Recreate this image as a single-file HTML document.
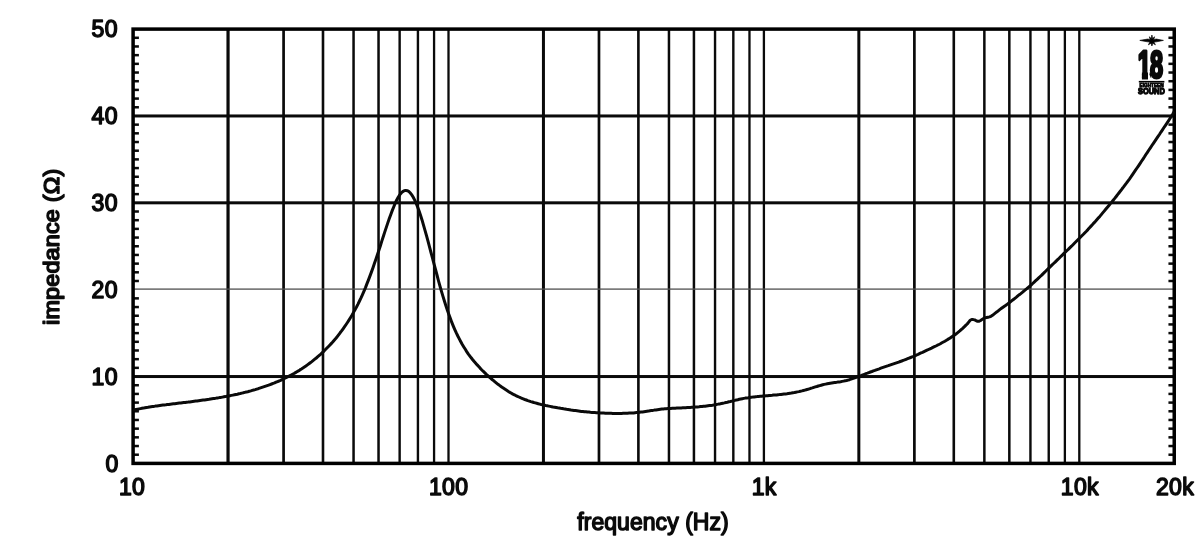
<!DOCTYPE html>
<html lang="en">
<head>
<meta charset="utf-8">
<title>Impedance curve</title>
<style>
html,body{margin:0;padding:0;background:#fff;}
body{width:1200px;height:539px;overflow:hidden;font-family:"Liberation Sans",sans-serif;}
svg{display:block;}
svg text{font-family:"Liberation Sans",sans-serif;font-size:23.0px;fill:#0a0a0a;stroke:#0a0a0a;stroke-width:1.45px;stroke-linejoin:round;letter-spacing:0.3px;}
</style>
</head>
<body>
<svg width="1200" height="539" viewBox="0 0 1200 539">
<rect width="1200" height="539" fill="#ffffff"/>
<g fill="#0a0a0a">
<rect x="226.44" y="29.10" width="3.2" height="434.30"/>
<rect x="282.23" y="29.10" width="2.7" height="434.30"/>
<rect x="321.69" y="29.10" width="2.6" height="434.30"/>
<rect x="352.31" y="29.10" width="2.5" height="434.30"/>
<rect x="377.28" y="29.10" width="2.5" height="434.30"/>
<rect x="398.44" y="29.10" width="2.4" height="434.30"/>
<rect x="416.73" y="29.10" width="2.4" height="434.30"/>
<rect x="432.92" y="29.10" width="2.3" height="434.30"/>
<rect x="447.35" y="29.10" width="2.3" height="434.30"/>
<rect x="541.94" y="29.10" width="3.0" height="434.30"/>
<rect x="597.63" y="29.10" width="2.7" height="434.30"/>
<rect x="637.09" y="29.10" width="2.6" height="434.30"/>
<rect x="667.71" y="29.10" width="2.5" height="434.30"/>
<rect x="692.68" y="29.10" width="2.5" height="434.30"/>
<rect x="713.84" y="29.10" width="2.4" height="434.30"/>
<rect x="732.13" y="29.10" width="2.4" height="434.30"/>
<rect x="748.32" y="29.10" width="2.3" height="434.30"/>
<rect x="762.75" y="29.10" width="2.3" height="434.30"/>
<rect x="857.34" y="29.10" width="3.0" height="434.30"/>
<rect x="913.03" y="29.10" width="2.7" height="434.30"/>
<rect x="952.49" y="29.10" width="2.6" height="434.30"/>
<rect x="983.11" y="29.10" width="2.5" height="434.30"/>
<rect x="1008.08" y="29.10" width="2.5" height="434.30"/>
<rect x="1029.24" y="29.10" width="2.4" height="434.30"/>
<rect x="1047.53" y="29.10" width="2.4" height="434.30"/>
<rect x="1063.72" y="29.10" width="2.3" height="434.30"/>
<rect x="1078.15" y="29.10" width="2.3" height="434.30"/>
<rect x="133.10" y="375.04" width="1041.14" height="3.0"/>
<rect x="133.10" y="201.32" width="1041.14" height="3.0"/>
<rect x="133.10" y="114.46" width="1041.14" height="3.0"/>
<rect x="133.10" y="288.45" width="1041.14" height="1.3" fill="#505050"/>
<rect x="133.10" y="453.46" width="5.8" height="2.5"/>
<rect x="1168.44" y="453.46" width="5.8" height="2.5"/>
<rect x="133.10" y="444.78" width="5.8" height="2.5"/>
<rect x="1168.44" y="444.78" width="5.8" height="2.5"/>
<rect x="133.10" y="436.09" width="5.8" height="2.5"/>
<rect x="1168.44" y="436.09" width="5.8" height="2.5"/>
<rect x="133.10" y="427.41" width="5.8" height="2.5"/>
<rect x="1168.44" y="427.41" width="5.8" height="2.5"/>
<rect x="133.10" y="418.72" width="5.8" height="2.5"/>
<rect x="1168.44" y="418.72" width="5.8" height="2.5"/>
<rect x="133.10" y="410.03" width="5.8" height="2.5"/>
<rect x="1168.44" y="410.03" width="5.8" height="2.5"/>
<rect x="133.10" y="401.35" width="5.8" height="2.5"/>
<rect x="1168.44" y="401.35" width="5.8" height="2.5"/>
<rect x="133.10" y="392.66" width="5.8" height="2.5"/>
<rect x="1168.44" y="392.66" width="5.8" height="2.5"/>
<rect x="133.10" y="383.98" width="5.8" height="2.5"/>
<rect x="1168.44" y="383.98" width="5.8" height="2.5"/>
<rect x="133.10" y="366.60" width="5.8" height="2.5"/>
<rect x="1168.44" y="366.60" width="5.8" height="2.5"/>
<rect x="133.10" y="357.92" width="5.8" height="2.5"/>
<rect x="1168.44" y="357.92" width="5.8" height="2.5"/>
<rect x="133.10" y="349.23" width="5.8" height="2.5"/>
<rect x="1168.44" y="349.23" width="5.8" height="2.5"/>
<rect x="133.10" y="340.55" width="5.8" height="2.5"/>
<rect x="1168.44" y="340.55" width="5.8" height="2.5"/>
<rect x="133.10" y="331.86" width="5.8" height="2.5"/>
<rect x="1168.44" y="331.86" width="5.8" height="2.5"/>
<rect x="133.10" y="323.17" width="5.8" height="2.5"/>
<rect x="1168.44" y="323.17" width="5.8" height="2.5"/>
<rect x="133.10" y="314.49" width="5.8" height="2.5"/>
<rect x="1168.44" y="314.49" width="5.8" height="2.5"/>
<rect x="133.10" y="305.80" width="5.8" height="2.5"/>
<rect x="1168.44" y="305.80" width="5.8" height="2.5"/>
<rect x="133.10" y="297.12" width="5.8" height="2.5"/>
<rect x="1168.44" y="297.12" width="5.8" height="2.5"/>
<rect x="133.10" y="279.74" width="5.8" height="2.5"/>
<rect x="1168.44" y="279.74" width="5.8" height="2.5"/>
<rect x="133.10" y="271.06" width="5.8" height="2.5"/>
<rect x="1168.44" y="271.06" width="5.8" height="2.5"/>
<rect x="133.10" y="262.37" width="5.8" height="2.5"/>
<rect x="1168.44" y="262.37" width="5.8" height="2.5"/>
<rect x="133.10" y="253.69" width="5.8" height="2.5"/>
<rect x="1168.44" y="253.69" width="5.8" height="2.5"/>
<rect x="133.10" y="245.00" width="5.8" height="2.5"/>
<rect x="1168.44" y="245.00" width="5.8" height="2.5"/>
<rect x="133.10" y="236.31" width="5.8" height="2.5"/>
<rect x="1168.44" y="236.31" width="5.8" height="2.5"/>
<rect x="133.10" y="227.63" width="5.8" height="2.5"/>
<rect x="1168.44" y="227.63" width="5.8" height="2.5"/>
<rect x="133.10" y="218.94" width="5.8" height="2.5"/>
<rect x="1168.44" y="218.94" width="5.8" height="2.5"/>
<rect x="133.10" y="210.26" width="5.8" height="2.5"/>
<rect x="1168.44" y="210.26" width="5.8" height="2.5"/>
<rect x="133.10" y="192.88" width="5.8" height="2.5"/>
<rect x="1168.44" y="192.88" width="5.8" height="2.5"/>
<rect x="133.10" y="184.20" width="5.8" height="2.5"/>
<rect x="1168.44" y="184.20" width="5.8" height="2.5"/>
<rect x="133.10" y="175.51" width="5.8" height="2.5"/>
<rect x="1168.44" y="175.51" width="5.8" height="2.5"/>
<rect x="133.10" y="166.83" width="5.8" height="2.5"/>
<rect x="1168.44" y="166.83" width="5.8" height="2.5"/>
<rect x="133.10" y="158.14" width="5.8" height="2.5"/>
<rect x="1168.44" y="158.14" width="5.8" height="2.5"/>
<rect x="133.10" y="149.45" width="5.8" height="2.5"/>
<rect x="1168.44" y="149.45" width="5.8" height="2.5"/>
<rect x="133.10" y="140.77" width="5.8" height="2.5"/>
<rect x="1168.44" y="140.77" width="5.8" height="2.5"/>
<rect x="133.10" y="132.08" width="5.8" height="2.5"/>
<rect x="1168.44" y="132.08" width="5.8" height="2.5"/>
<rect x="133.10" y="123.40" width="5.8" height="2.5"/>
<rect x="1168.44" y="123.40" width="5.8" height="2.5"/>
<rect x="133.10" y="106.02" width="5.8" height="2.5"/>
<rect x="1168.44" y="106.02" width="5.8" height="2.5"/>
<rect x="133.10" y="97.34" width="5.8" height="2.5"/>
<rect x="1168.44" y="97.34" width="5.8" height="2.5"/>
<rect x="133.10" y="88.65" width="5.8" height="2.5"/>
<rect x="1168.44" y="88.65" width="5.8" height="2.5"/>
<rect x="133.10" y="79.97" width="5.8" height="2.5"/>
<rect x="1168.44" y="79.97" width="5.8" height="2.5"/>
<rect x="133.10" y="71.28" width="5.8" height="2.5"/>
<rect x="1168.44" y="71.28" width="5.8" height="2.5"/>
<rect x="133.10" y="62.59" width="5.8" height="2.5"/>
<rect x="1168.44" y="62.59" width="5.8" height="2.5"/>
<rect x="133.10" y="53.91" width="5.8" height="2.5"/>
<rect x="1168.44" y="53.91" width="5.8" height="2.5"/>
<rect x="133.10" y="45.22" width="5.8" height="2.5"/>
<rect x="1168.44" y="45.22" width="5.8" height="2.5"/>
<rect x="133.10" y="36.54" width="5.8" height="2.5"/>
<rect x="1168.44" y="36.54" width="5.8" height="2.5"/>
</g>
<rect x="133.10" y="29.10" width="1041.14" height="434.30" fill="none" stroke="#000" stroke-width="3.5"/>
<path d="M133.1 410.1 L134.6 409.8 L136.1 409.5 L137.6 409.2 L139.1 408.9 L140.5 408.6 L142.0 408.3 L143.5 408.1 L145.0 407.8 L146.5 407.5 L148.0 407.3 L149.5 407.0 L151.0 406.8 L152.5 406.6 L154.0 406.4 L155.4 406.1 L156.9 405.9 L158.4 405.7 L159.9 405.5 L161.4 405.3 L162.9 405.1 L164.4 404.9 L165.9 404.8 L167.4 404.6 L168.8 404.4 L170.3 404.2 L171.8 404.0 L173.3 403.8 L174.8 403.7 L176.3 403.5 L177.8 403.3 L179.3 403.1 L180.8 403.0 L182.3 402.8 L183.7 402.6 L185.2 402.4 L186.7 402.2 L188.2 402.1 L189.7 401.9 L191.2 401.7 L192.7 401.5 L194.2 401.3 L195.7 401.1 L197.1 400.9 L198.6 400.7 L200.1 400.5 L201.6 400.3 L203.1 400.1 L204.6 399.9 L206.1 399.7 L207.6 399.5 L209.1 399.3 L210.6 399.0 L212.0 398.8 L213.5 398.6 L215.0 398.4 L216.5 398.1 L218.0 397.9 L219.5 397.6 L221.0 397.4 L222.5 397.1 L224.0 396.8 L225.4 396.6 L226.9 396.3 L228.4 396.0 L229.9 395.7 L231.4 395.4 L232.9 395.1 L234.4 394.8 L235.9 394.5 L237.4 394.2 L238.9 393.8 L240.3 393.5 L241.8 393.1 L243.3 392.8 L244.8 392.4 L246.3 392.0 L247.8 391.7 L249.3 391.3 L250.8 390.9 L252.3 390.4 L253.7 390.0 L255.2 389.6 L256.7 389.1 L258.2 388.7 L259.7 388.2 L261.2 387.7 L262.7 387.2 L264.2 386.7 L265.7 386.2 L267.2 385.7 L268.6 385.2 L270.1 384.6 L271.6 384.0 L273.1 383.4 L274.6 382.9 L276.1 382.2 L277.6 381.6 L279.1 381.0 L280.6 380.3 L282.0 379.6 L283.5 378.9 L285.0 378.2 L286.5 377.5 L288.0 376.7 L289.5 375.9 L291.0 375.2 L292.5 374.3 L294.0 373.5 L295.5 372.6 L296.9 371.8 L298.4 370.9 L299.9 369.9 L301.4 369.0 L302.9 368.0 L304.4 367.0 L305.9 366.0 L307.4 364.9 L308.9 363.8 L310.3 362.7 L311.8 361.6 L313.3 360.4 L314.8 359.2 L316.3 358.0 L317.8 356.7 L319.3 355.4 L320.8 354.1 L322.3 352.7 L323.8 351.3 L325.2 349.8 L326.7 348.3 L328.2 346.8 L329.7 345.2 L331.2 343.6 L332.7 342.0 L334.2 340.2 L335.7 338.5 L337.2 336.7 L338.6 334.8 L340.1 332.8 L341.6 330.9 L343.1 328.8 L344.6 326.7 L346.1 324.5 L347.6 322.2 L349.1 319.9 L350.6 317.5 L352.1 315.0 L353.5 312.4 L355.0 309.7 L356.5 307.0 L358.0 304.1 L359.5 301.0 L361.0 297.9 L362.5 294.6 L364.0 291.1 L365.5 287.6 L366.9 283.9 L368.4 280.1 L369.9 276.1 L371.4 272.1 L372.9 267.9 L374.4 263.6 L375.9 259.2 L377.4 254.8 L378.9 250.3 L380.4 245.7 L381.8 241.1 L383.3 236.5 L384.8 231.9 L386.3 227.4 L387.8 222.9 L389.3 218.6 L390.8 214.4 L392.3 210.4 L393.8 206.7 L395.2 203.2 L396.7 200.0 L398.2 197.2 L399.7 194.9 L401.2 193.0 L402.7 191.6 L404.2 190.7 L405.7 190.4 L407.2 190.7 L408.7 191.4 L410.1 192.8 L411.6 194.6 L413.1 197.0 L414.6 199.9 L416.1 203.2 L417.6 207.0 L419.1 211.1 L420.6 215.5 L422.1 220.2 L423.5 225.2 L425.0 230.3 L426.5 235.7 L428.0 241.2 L429.5 246.8 L431.0 252.5 L432.5 258.2 L434.0 263.8 L435.5 269.5 L437.0 275.0 L438.4 280.5 L439.9 285.9 L441.4 291.1 L442.9 296.1 L444.4 301.0 L445.9 305.7 L447.4 310.2 L448.9 314.5 L450.4 318.6 L451.8 322.4 L453.3 326.1 L454.8 329.6 L456.3 332.9 L457.8 336.0 L459.3 338.9 L460.8 341.7 L462.3 344.4 L463.8 346.9 L465.3 349.3 L466.7 351.6 L468.2 353.8 L469.7 355.8 L471.2 357.8 L472.7 359.7 L474.2 361.5 L475.7 363.2 L477.2 364.9 L478.7 366.5 L480.1 368.1 L481.6 369.7 L483.1 371.2 L484.6 372.6 L486.1 374.1 L487.6 375.5 L489.1 376.8 L490.6 378.2 L492.1 379.5 L493.6 380.7 L495.0 381.9 L496.5 383.1 L498.0 384.3 L499.5 385.4 L501.0 386.5 L502.5 387.6 L504.0 388.6 L505.5 389.6 L507.0 390.6 L508.4 391.5 L509.9 392.4 L511.4 393.2 L512.9 394.1 L514.4 394.8 L515.9 395.6 L517.4 396.3 L518.9 397.0 L520.4 397.7 L521.9 398.3 L523.3 398.9 L524.8 399.5 L526.3 400.0 L527.8 400.6 L529.3 401.1 L530.8 401.6 L532.3 402.0 L533.8 402.5 L535.3 402.9 L536.7 403.3 L538.2 403.7 L539.7 404.1 L541.2 404.5 L542.7 404.8 L544.2 405.1 L545.7 405.5 L547.2 405.8 L548.7 406.1 L550.2 406.4 L551.6 406.7 L553.1 407.0 L554.6 407.2 L556.1 407.5 L557.6 407.8 L559.1 408.0 L560.6 408.3 L562.1 408.5 L563.6 408.8 L565.0 409.0 L566.5 409.3 L568.0 409.5 L569.5 409.7 L571.0 410.0 L572.5 410.2 L574.0 410.4 L575.5 410.6 L577.0 410.8 L578.5 411.0 L579.9 411.2 L581.4 411.4 L582.9 411.5 L584.4 411.7 L585.9 411.8 L587.4 412.0 L588.9 412.1 L590.4 412.3 L591.9 412.4 L593.3 412.5 L594.8 412.6 L596.3 412.7 L597.8 412.8 L599.3 412.9 L600.8 413.0 L602.3 413.1 L603.8 413.1 L605.3 413.2 L606.8 413.2 L608.2 413.3 L609.7 413.3 L611.2 413.3 L612.7 413.4 L614.2 413.4 L615.7 413.4 L617.2 413.4 L618.7 413.4 L620.2 413.4 L621.6 413.4 L623.1 413.3 L624.6 413.3 L626.1 413.2 L627.6 413.2 L629.1 413.1 L630.6 413.0 L632.1 413.0 L633.6 412.9 L635.1 412.7 L636.5 412.6 L638.0 412.5 L639.5 412.3 L641.0 412.1 L642.5 411.9 L644.0 411.7 L645.5 411.5 L647.0 411.3 L648.5 411.1 L649.9 410.8 L651.4 410.6 L652.9 410.4 L654.4 410.1 L655.9 409.9 L657.4 409.7 L658.9 409.5 L660.4 409.3 L661.9 409.1 L663.4 408.9 L664.8 408.8 L666.3 408.7 L667.8 408.6 L669.3 408.5 L670.8 408.4 L672.3 408.3 L673.8 408.2 L675.3 408.2 L676.8 408.1 L678.2 408.0 L679.7 408.0 L681.2 407.9 L682.7 407.8 L684.2 407.8 L685.7 407.7 L687.2 407.6 L688.7 407.5 L690.2 407.4 L691.7 407.3 L693.1 407.2 L694.6 407.1 L696.1 407.0 L697.6 406.9 L699.1 406.8 L700.6 406.6 L702.1 406.5 L703.6 406.3 L705.1 406.2 L706.5 406.0 L708.0 405.8 L709.5 405.6 L711.0 405.4 L712.5 405.2 L714.0 404.9 L715.5 404.7 L717.0 404.4 L718.5 404.1 L720.0 403.9 L721.4 403.5 L722.9 403.2 L724.4 402.9 L725.9 402.5 L727.4 402.2 L728.9 401.8 L730.4 401.5 L731.9 401.1 L733.4 400.7 L734.8 400.4 L736.3 400.0 L737.8 399.7 L739.3 399.3 L740.8 399.0 L742.3 398.7 L743.8 398.4 L745.3 398.1 L746.8 397.9 L748.3 397.7 L749.7 397.4 L751.2 397.2 L752.7 397.1 L754.2 396.9 L755.7 396.7 L757.2 396.6 L758.7 396.4 L760.2 396.3 L761.7 396.2 L763.1 396.0 L764.6 395.9 L766.1 395.8 L767.6 395.7 L769.1 395.5 L770.6 395.4 L772.1 395.3 L773.6 395.1 L775.1 395.0 L776.6 394.9 L778.0 394.7 L779.5 394.6 L781.0 394.4 L782.5 394.2 L784.0 394.0 L785.5 393.9 L787.0 393.7 L788.5 393.4 L790.0 393.2 L791.4 393.0 L792.9 392.7 L794.4 392.5 L795.9 392.2 L797.4 391.9 L798.9 391.6 L800.4 391.2 L801.9 390.9 L803.4 390.5 L804.9 390.1 L806.3 389.7 L807.8 389.3 L809.3 388.8 L810.8 388.3 L812.3 387.9 L813.8 387.4 L815.3 386.9 L816.8 386.5 L818.3 386.0 L819.7 385.6 L821.2 385.2 L822.7 384.8 L824.2 384.4 L825.7 384.1 L827.2 383.8 L828.7 383.5 L830.2 383.2 L831.7 383.0 L833.2 382.8 L834.6 382.6 L836.1 382.4 L837.6 382.1 L839.1 381.9 L840.6 381.7 L842.1 381.4 L843.6 381.1 L845.1 380.8 L846.6 380.5 L848.0 380.1 L849.5 379.7 L851.0 379.2 L852.5 378.7 L854.0 378.2 L855.5 377.7 L857.0 377.2 L858.5 376.6 L860.0 376.1 L861.5 375.5 L862.9 374.9 L864.4 374.3 L865.9 373.7 L867.4 373.2 L868.9 372.6 L870.4 372.0 L871.9 371.5 L873.4 370.9 L874.9 370.4 L876.3 369.8 L877.8 369.3 L879.3 368.8 L880.8 368.2 L882.3 367.7 L883.8 367.2 L885.3 366.7 L886.8 366.2 L888.3 365.7 L889.8 365.1 L891.2 364.6 L892.7 364.1 L894.2 363.6 L895.7 363.1 L897.2 362.6 L898.7 362.1 L900.2 361.5 L901.7 361.0 L903.2 360.4 L904.6 359.9 L906.1 359.3 L907.6 358.7 L909.1 358.1 L910.6 357.5 L912.1 356.9 L913.6 356.3 L915.1 355.6 L916.6 355.0 L918.1 354.3 L919.5 353.6 L921.0 352.9 L922.5 352.3 L924.0 351.6 L925.5 350.9 L927.0 350.2 L928.5 349.5 L930.0 348.8 L931.5 348.1 L932.9 347.4 L934.4 346.7 L935.9 346.0 L937.4 345.2 L938.9 344.5 L940.4 343.7 L941.9 342.8 L943.4 342.0 L944.9 341.2 L946.4 340.3 L947.8 339.4 L949.3 338.5 L950.8 337.6 L952.3 336.6 L953.8 335.6 L955.3 334.5 L956.8 333.3 L958.3 332.1 L959.8 330.9 L961.2 329.6 L962.7 328.3 L964.2 326.9 L965.7 325.4 L967.2 324.0 L968.7 322.1 L970.2 320.3 L971.7 319.5 L973.2 319.6 L974.7 319.9 L976.1 320.6 L977.6 321.3 L979.1 321.3 L980.6 320.5 L982.1 319.4 L983.6 318.4 L985.1 317.9 L986.6 317.5 L988.1 317.2 L989.5 316.9 L991.0 316.3 L992.5 315.3 L994.0 314.1 L995.5 312.9 L997.0 311.8 L998.5 310.6 L1000.0 309.4 L1001.5 308.3 L1003.0 307.2 L1004.4 306.2 L1005.9 305.2 L1007.4 304.1 L1008.9 303.0 L1010.4 301.9 L1011.9 300.7 L1013.4 299.5 L1014.9 298.3 L1016.4 297.1 L1017.8 295.9 L1019.3 294.7 L1020.8 293.6 L1022.3 292.4 L1023.8 291.1 L1025.3 289.9 L1026.8 288.7 L1028.3 287.4 L1029.8 286.1 L1031.3 284.8 L1032.7 283.5 L1034.2 282.1 L1035.7 280.7 L1037.2 279.3 L1038.7 277.9 L1040.2 276.5 L1041.7 275.1 L1043.2 273.6 L1044.7 272.2 L1046.1 270.8 L1047.6 269.3 L1049.1 267.8 L1050.6 266.4 L1052.1 264.9 L1053.6 263.5 L1055.1 262.1 L1056.6 260.6 L1058.1 259.2 L1059.6 257.7 L1061.0 256.3 L1062.5 254.9 L1064.0 253.4 L1065.5 252.0 L1067.0 250.5 L1068.5 249.1 L1070.0 247.6 L1071.5 246.2 L1073.0 244.7 L1074.4 243.3 L1075.9 241.8 L1077.4 240.3 L1078.9 238.8 L1080.4 237.3 L1081.9 235.8 L1083.4 234.3 L1084.9 232.7 L1086.4 231.2 L1087.9 229.6 L1089.3 228.0 L1090.8 226.4 L1092.3 224.8 L1093.8 223.1 L1095.3 221.5 L1096.8 219.8 L1098.3 218.1 L1099.8 216.4 L1101.3 214.6 L1102.7 212.9 L1104.2 211.1 L1105.7 209.3 L1107.2 207.5 L1108.7 205.7 L1110.2 203.9 L1111.7 202.1 L1113.2 200.2 L1114.7 198.4 L1116.2 196.5 L1117.6 194.6 L1119.1 192.7 L1120.6 190.8 L1122.1 188.8 L1123.6 186.9 L1125.1 184.9 L1126.6 182.9 L1128.1 180.8 L1129.6 178.8 L1131.1 176.7 L1132.5 174.6 L1134.0 172.4 L1135.5 170.2 L1137.0 168.0 L1138.5 165.8 L1140.0 163.6 L1141.5 161.3 L1143.0 159.1 L1144.5 156.8 L1145.9 154.5 L1147.4 152.3 L1148.9 150.0 L1150.4 147.8 L1151.9 145.5 L1153.4 143.3 L1154.9 141.1 L1156.4 138.9 L1157.9 136.7 L1159.4 134.5 L1160.8 132.3 L1162.3 130.1 L1163.8 127.8 L1165.3 125.6 L1166.8 123.4 L1168.3 121.1 L1169.8 118.8 L1171.3 116.4 L1172.8 114.0 L1174.2 111.6" fill="none" stroke="#0a0a0a" stroke-width="3.0" stroke-linejoin="round" stroke-linecap="butt"/>
<g>
<text x="118.6" y="471.7" text-anchor="end">0</text>
<text x="117.8" y="384.8" text-anchor="end">10</text>
<text x="117.8" y="298.0" text-anchor="end">20</text>
<text x="117.8" y="211.1" text-anchor="end">30</text>
<text x="117.8" y="124.3" text-anchor="end">40</text>
<text x="117.8" y="37.4" text-anchor="end">50</text>
<text x="132.1" y="494.8" text-anchor="middle">10</text>
<text x="448.6" y="494.8" text-anchor="middle">100</text>
<text x="764.2" y="494.8" text-anchor="middle">1k</text>
<text x="1079.8" y="494.8" text-anchor="middle">10k</text>
<text x="1194" y="494.8" text-anchor="end">20k</text>
<text x="653" y="530" text-anchor="middle" style="letter-spacing:0.05px">frequency (Hz)</text>
<text transform="translate(59.1 246.8) rotate(-90) scale(1.09 1)" text-anchor="middle" style="font-size:21.4px;letter-spacing:0.2px">impedance (Ω)</text>
</g>
<g id="logo">
<path d="M1139.8 40.4 L1147.5 39.1 L1150.2 39.4 L1149.3 36.8 L1151.3 38.6 L1151.9 35 L1152.6 38.6 L1154.6 36.8 L1153.7 39.4 L1156.5 39.1 L1163.4 40.4 L1156.5 41.8 L1153.9 42 L1155.4 44.8 L1152.8 43.2 L1151.9 46 L1151 43.2 L1148.4 44.8 L1149.9 42 L1147.5 41.8 Z" stroke="#0a0a0a" stroke-width="0.7" stroke-linejoin="round"/>
<clipPath id="c1"><path d="M1136 45 H1170 V82 H1153.2 L1152.2 79.6 L1150.6 77.6 L1149.7 75 L1149.5 71.2 H1148.0 V82 H1141.9 V71.2 H1136 Z"/></clipPath>
<g clip-path="url(#c1)"><text transform="translate(1137.8 78.2) scale(0.61 1)" dx="0 -1.4" style="font-size:38.6px;font-weight:bold;stroke-width:2.6px;letter-spacing:0" vector-effect="non-scaling-stroke">18</text></g>
<rect x="1138.8" y="80.9" width="25.6" height="1.6"/>
<text transform="translate(1151.6 86.6) scale(0.95 1)" text-anchor="middle" style="font-size:5px;font-weight:bold;stroke-width:0.9px;letter-spacing:0">EIGHTEEN</text>
<text transform="translate(1151.4 94.2) scale(0.79 1)" text-anchor="middle" style="font-size:9.4px;font-weight:bold;stroke-width:1.3px;letter-spacing:0">SOUND</text>
</g>
</svg>
</body>
</html>
